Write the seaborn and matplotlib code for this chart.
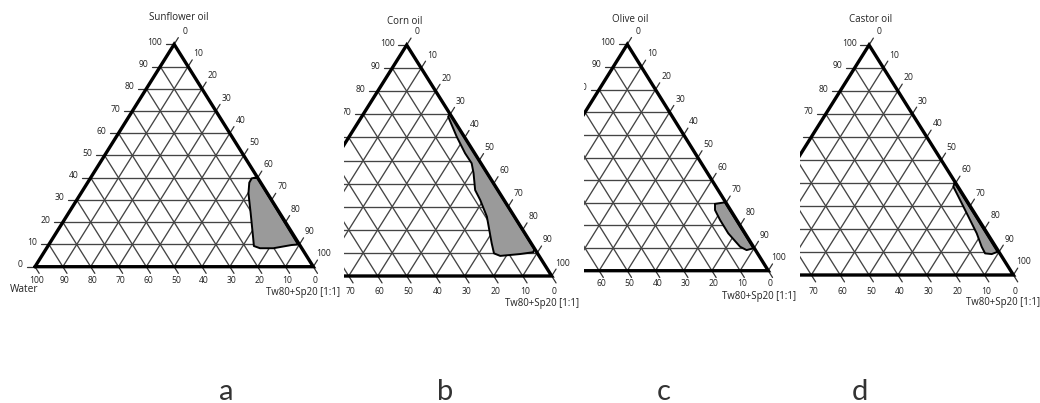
import matplotlib
matplotlib.use("Agg")
import matplotlib.pyplot as plt
from matplotlib import font_manager
from matplotlib.transforms import offset_copy
import seaborn as sns
import numpy as np
import pandas as pd

# ---------------- data ----------------
panel_letters = ["a", "b", "c", "d"]
oil_names = ["Sunflower oil", "Corn oil", "Olive oil", "Castor oil"]
water_label = "Water"
surf_label = "Tw80+Sp20 [1:1]"
tick_values = [0, 10, 20, 30, 40, 50, 60, 70, 80, 90, 100]
grid_values = [10, 20, 30, 40, 50, 60, 70, 80, 90]

# microemulsion regions (oil %, surfactant-mix %)
oil_a = [40.0, 39.8, 10.0, 9.75, 8.3, 8.3, 9.3, 12.8, 24.0, 33.0, 37.8, 39.7]
surf_a = [59.0, 60.1, 89.5, 87.3, 81.5, 76.7, 74.0, 72.0, 65.5, 60.2, 58.1, 58.0]

oil_b = [70.0, 11.6, 10.3, 9.5, 8.7, 9.8, 14.2, 25.7, 32.9, 37.2, 44.5, 48.8, 53.1, 60.3, 69.0]
surf_b = [30.0, 88.2, 88.5, 84.3, 77.9, 75.2, 72.2, 64.8, 58.9, 55.0, 50.8, 48.0, 43.6, 37.1, 29.8]

oil_c = [29.5, 30.2, 9.9, 9.1, 10.6, 16.5, 22.4, 26.8]
surf_c = [66.35, 69.5, 89.75, 87.75, 84.7, 77.55, 71.7, 67.7]

oil_d = [40.1, 10.1, 9.1, 9.4, 12.3, 18.1, 31.2, 38.4]
surf_d = [59.6, 89.45, 87.95, 85.5, 82.85, 78.25, 66.5, 60.0]

regions = [(oil_a, surf_a), (oil_b, surf_b), (oil_c, surf_c), (oil_d, surf_d)]

# ---------------- style ----------------
sns.set_theme(style="white")
available = {f.name for f in font_manager.fontManager.ttflist}
narrow = "Liberation Sans Narrow" if "Liberation Sans Narrow" in available else "Open Sans"
plt.rcParams["font.family"] = [narrow, "DejaVu Sans"]
letter_family = ["Lato", "DejaVu Sans"] if "Lato" in available else ["DejaVu Sans"]

W_PX, H_PX = 1040, 403
fig = plt.figure(figsize=(W_PX / 100, H_PX / 100), dpi=100)
fig.patch.set_facecolor("white")

# layout of each (cropped) triangle in figure pixels
layout = [
    dict(x0=35.0, yb=266.7, sx=2.783, sy=2.224, left=0, right=344, tdx=5, ty=18, boff=13.5, soff=(-10, 25.5)),
    dict(x0=261.7, yb=276.0, sx=2.900, sy=2.310, left=344, right=584, tdx=-2, ty=22, boff=16, soff=(-10, 27.5)),
    dict(x0=486.3, yb=270.7, sx=2.820, sy=2.264, left=584, right=800, tdx=3, ty=20, boff=13, soff=(-9, 25.5)),
    dict(x0=724.7, yb=275.0, sx=2.887, sy=2.300, left=800, right=1040, tdx=2, ty=19, boff=16, soff=(-10, 27.5)),
]
letter_x = [226, 445, 664, 860]
letter_base = 400

GRID_C = "#444444"
TICK_LEN = 3.0


def tern(oil, surf):
    oil = np.asarray(oil, float)
    surf = np.asarray(surf, float)
    return surf + oil / 2.0, oil


def ptext(ax, lay, x, y, s, dx, dy, min_px, **kw):
    # skip labels that fall completely outside the cropped panel
    if lay["x0"] + x * lay["sx"] + dx < lay["left"] + min_px:
        return
    tr = offset_copy(ax.transData, fig=fig, x=dx, y=-dy, units="dots")
    ax.text(x, y, s, transform=tr, clip_on=True, **kw)


for i, lay in enumerate(layout):
    L, R = lay["left"], lay["right"]
    ax = fig.add_axes([L / W_PX, 0, (R - L) / W_PX, 1])
    ax.set_facecolor("none")

    # grid lines
    for k in grid_values:
        ax.plot([k / 2, 100 - k / 2], [k, k], color=GRID_C, lw=0.95, zorder=1)
        ax.plot([k, k + (100 - k) / 2], [0, 100 - k], color=GRID_C, lw=0.95, zorder=1)
        ax.plot([100 - k, (100 - k) / 2], [0, 100 - k], color=GRID_C, lw=0.95, zorder=1)

    # ticks + labels
    for k in tick_values:
        # oil axis (left edge)
        xl, yl = k / 2, k
        ax.plot([xl, xl - TICK_LEN], [yl, yl], color="#333333", lw=0.9, zorder=1)
        ptext(ax, lay, xl, yl, str(k), -12, -2, 1, ha="right", va="center", fontsize=6.2,
              color="#222222")
        # surfactant axis (right edge)
        xr, yr = k + (100 - k) / 2, 100 - k
        ax.plot([xr, xr + 0.5 * TICK_LEN], [yr, yr + TICK_LEN], color="#333333", lw=0.9, zorder=1)
        ptext(ax, lay, xr, yr, str(k), 10.5, -13, -4, ha="center", va="center", fontsize=6.2,
              color="#222222")
        # water axis (bottom edge)
        xb = 100 - k
        ax.plot([xb, xb + 0.5 * TICK_LEN], [0, -TICK_LEN], color="#333333", lw=0.9, zorder=1)
        ptext(ax, lay, xb, 0, str(k), 2, lay["boff"], -4, ha="center", va="center", fontsize=6.2,
              color="#222222")

    # region
    oil, surf = regions[i]
    rx, ry = tern(oil, surf)
    ax.fill(rx, ry, color="#9a9a9a", lw=0, zorder=3)
    df = pd.DataFrame({"x": np.append(rx, rx[0]), "y": np.append(ry, ry[0])})
    sns.lineplot(data=df, x="x", y="y", sort=False, estimator=None, color="black",
                 lw=1.4, ax=ax, zorder=4)

    # triangle edges
    ax.plot([0, 100, 50, 0], [0, 0, 100, 0], color="black", lw=2.4,
            solid_joinstyle="miter", zorder=5)

    # axis names
    ptext(ax, lay, 100, 0, surf_label, lay["soff"][0], lay["soff"][1], -40, ha="center",
          va="center", fontsize=6.9, color="#222222")
    if i == 0:
        ptext(ax, lay, 0, 0, water_label, -11, 23, -40, ha="center", va="center", fontsize=7.3,
              color="#222222")
    top_y = lay["yb"] - 100 * lay["sy"]
    ptext(ax, lay, 50, 100, oil_names[i], lay["tdx"], lay["ty"] - top_y, -40, ha="center",
          va="center", fontsize=7.0, color="#222222")

    ax.set_xlim((L - lay["x0"]) / lay["sx"], (R - lay["x0"]) / lay["sx"])
    ax.set_ylim((lay["yb"] - H_PX) / lay["sy"], lay["yb"] / lay["sy"])
    ax.set_xlabel("")
    ax.set_ylabel("")
    ax.axis("off")

    fig.text(letter_x[i] / W_PX, (H_PX - letter_base) / H_PX, panel_letters[i],
             ha="center", va="baseline", fontsize=21, fontweight="normal",
             family=letter_family, color="#333333")

fig.savefig("out.png", dpi=100, facecolor="white")
